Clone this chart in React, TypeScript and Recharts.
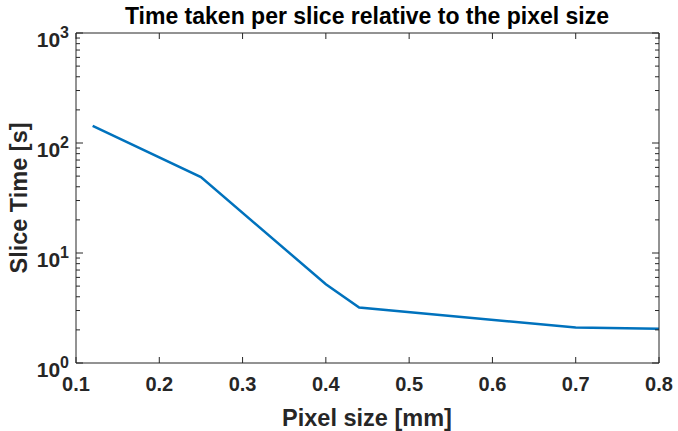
import React from 'react';
import { LineChart, Line, XAxis, YAxis } from 'recharts';

// pixel size [mm] vs slice time [s]
const pixelSizes = [0.12, 0.25, 0.4, 0.44, 0.7, 0.8];
const sliceTimes = [143, 49, 5.2, 3.2, 2.1, 2.05];

const xTicks = [0.1, 0.2, 0.3, 0.4, 0.5, 0.6, 0.7, 0.8];
const majorY = [1, 10, 100, 1000];
const minorMult = [2, 3, 4, 5, 6, 7, 8, 9];

const yTicks: number[] = [];
majorY.forEach((m, i) => {
  yTicks.push(m);
  if (i < majorY.length - 1) minorMult.forEach(k => yTicks.push(m * k));
});

const data = pixelSizes.map((x, i) => ({ x, t: sliceTimes[i] }));

const AXIS = '#262626';
const FONT = '"Liberation Sans", Arial, Helvetica, sans-serif';

const W = 678;
const H = 431;
// plot box: x 76..659, y 33..363 (axes take 1px each)
const margin = { top: 32, right: 18, bottom: 67, left: 75 };

const BottomTick = (props: any) => {
  const { x, y, payload } = props;
  return (
    <g>
      <line x1={x} x2={x} y1={y} y2={y - 6} stroke={AXIS} strokeWidth={1} />
      <text x={x} y={y + 28} textAnchor="middle" fontFamily={FONT} fontWeight="bold" fontSize={20} fill={AXIS}>
        {payload.value.toFixed(1)}
      </text>
    </g>
  );
};

const TopTick = (props: any) => {
  const { x, y } = props;
  return <line x1={x} x2={x} y1={y} y2={y + 6} stroke={AXIS} strokeWidth={1} />;
};

const LeftTick = (props: any) => {
  const { x, y, payload } = props;
  const v = payload.value;
  const major = majorY.includes(v);
  const exp = Math.round(Math.log10(v));
  return (
    <g>
      <line x1={x} x2={x + (major ? 7 : 4)} y1={y} y2={y} stroke={AXIS} strokeWidth={1} />
      {major && (
        <text x={x - 7} y={y + 14} textAnchor="end" fontFamily={FONT} fontWeight="bold" fontSize={21} fill={AXIS}>
          10
          <tspan fontSize={16} dy={-9}>{exp}</tspan>
        </text>
      )}
    </g>
  );
};

const RightTick = (props: any) => {
  const { x, y, payload } = props;
  const major = majorY.includes(payload.value);
  return <line x1={x} x2={x - (major ? 7 : 4)} y1={y} y2={y} stroke={AXIS} strokeWidth={1} />;
};

export default function App() {
  return (
    <div style={{ position: 'absolute', left: 0, top: 0, width: W, height: H, background: '#fff' }}>
      <LineChart width={W} height={H} data={data} margin={margin}>
        <XAxis
          xAxisId="b"
          dataKey="x"
          type="number"
          domain={[0.1, 0.8]}
          ticks={xTicks}
          allowDataOverflow
          tickLine={false}
          tickSize={0}
          tickMargin={0}
          tick={<BottomTick />}
          stroke={AXIS}
          interval={0}
          height={1}
        />
        <XAxis
          xAxisId="t"
          orientation="top"
          dataKey="x"
          type="number"
          domain={[0.1, 0.8]}
          ticks={xTicks}
          allowDataOverflow
          tickLine={false}
          tickSize={0}
          tickMargin={0}
          tick={<TopTick />}
          stroke={AXIS}
          interval={0}
          height={1}
        />
        <YAxis
          yAxisId="l"
          scale="log"
          type="number"
          domain={[1, 1000]}
          ticks={yTicks}
          allowDataOverflow
          tickLine={false}
          tickSize={0}
          tickMargin={0}
          tick={<LeftTick />}
          stroke={AXIS}
          interval={0}
          width={1}
        />
        <YAxis
          yAxisId="r"
          orientation="right"
          scale="log"
          type="number"
          domain={[1, 1000]}
          ticks={yTicks}
          allowDataOverflow
          tickLine={false}
          tickSize={0}
          tickMargin={0}
          tick={<RightTick />}
          stroke={AXIS}
          interval={0}
          width={1}
        />
        <Line
          xAxisId="b"
          yAxisId="l"
          dataKey="t"
          type="linear"
          stroke="#0072BD"
          strokeWidth={2.5}
          dot={false}
          isAnimationActive={false}
        />
      </LineChart>
      <svg width={W} height={H} style={{ position: 'absolute', left: 0, top: 0, pointerEvents: 'none' }}>
        <text x={367} y={24} textAnchor="middle" fontFamily={FONT} fontWeight="bold" fontSize={23} fill="#000">
          Time taken per slice relative to the pixel size
        </text>
        <text x={367} y={426} textAnchor="middle" fontFamily={FONT} fontWeight="bold" fontSize={23.5} fill={AXIS}>
          Pixel size [mm]
        </text>
        <text
          x={0}
          y={0}
          transform="translate(27 198) rotate(-90)"
          textAnchor="middle"
          fontFamily={FONT}
          fontWeight="bold"
          fontSize={23.5}
          fill={AXIS}
        >
          Slice Time [s]
        </text>
      </svg>
    </div>
  );
}
